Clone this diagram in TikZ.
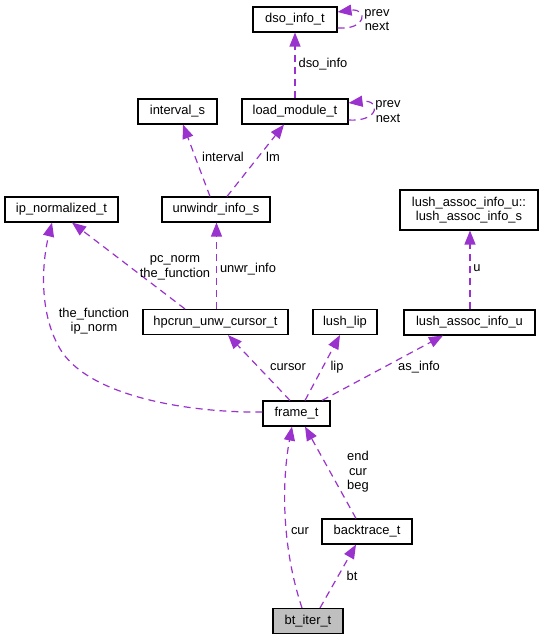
\documentclass[tikz,border=0pt]{standalone}
\usepackage{fontspec}
\setmainfont{Liberation Sans}
\usetikzlibrary{arrows.meta}
\definecolor{edgec}{HTML}{9A32CD}
\definecolor{focusfill}{HTML}{BFBFBF}
\begin{document}
\begin{tikzpicture}[x=1pt,y=-1pt,
  every node/.style={font=\fontsize{12.9}{14.5}\selectfont},
  box/.style={draw=black, line width=1.1pt, fill=white, inner sep=0pt, minimum height=25pt, align=center},
  edge/.style={draw=edgec, line width=1.2pt, dash pattern=on 7pt off 5pt, -{Triangle[length=14pt,width=11pt,fill=edgec]}},
  lbl/.style={inner sep=0pt, align=center}]
\useasboundingbox (0,0) rectangle (545,640);

% nodes
\node[box, minimum width=84pt]  (dso)  at (295,19.5)  {dso\_info\_t};
\node[box, minimum width=106pt] (lm)   at (295,111.5) {load\_module\_t};
\node[box, minimum width=79pt]  (intv) at (177.5,111.5) {interval\_s};
\node[box, minimum width=108pt] (unw)  at (216,209.5) {unwindr\_info\_s};
\node[box, minimum width=113pt] (ipn)  at (61.5,209.5) {ip\_normalized\_t};
\node[box, minimum width=138pt, minimum height=40pt] (lus) at (469,210) {lush\_assoc\_info\_u::\\lush\_assoc\_info\_s};
\node[box, minimum width=145pt] (hpc)  at (215.5,322) {hpcrun\_unw\_cursor\_t};
\node[box, minimum width=64pt]  (lip)  at (345,322) {lush\_lip};
\node[box, minimum width=131pt] (luu)  at (469.5,322.5) {lush\_assoc\_info\_u};
\node[box, minimum width=67pt]  (frm)  at (296.5,413.5) {frame\_t};
\node[box, minimum width=90pt]  (bt)   at (367,531.5) {backtrace\_t};
\node[box, minimum width=70pt, fill=focusfill] (iter) at (308,621) {bt\_iter\_t};

% edges
\draw[edge] (lm.north) -- (dso.south);
\draw[edge] ([yshift=-8.5pt]dso.east) .. controls +(30,2) and +(30,-4) .. ([yshift=7.5pt]dso.east);
\draw[edge] ([yshift=-8.5pt]lm.east) .. controls +(32,2) and +(32,-4) .. ([yshift=8.5pt]lm.east);
\draw[edge] ([xshift=-6pt]unw.north) -- ([xshift=5.5pt]intv.south);
\draw[edge] ([xshift=11pt]unw.north) -- ([xshift=-11pt]lm.south);
\draw[edge] ([xshift=1pt]hpc.north) -- ([xshift=0.5pt]unw.south);
\draw[edge] ([xshift=-30.5pt]hpc.north) -- ([xshift=10.5pt]ipn.south);
\draw[edge] ([yshift=1.5pt]frm.west) .. controls (200,413) and (95,400) .. (62,352)
   .. controls (38,315) and (42,262) .. ([xshift=-9.5pt]ipn.south);
\draw[edge] ([xshift=-6.5pt]frm.north) -- ([xshift=12.5pt]hpc.south);
\draw[edge] ([xshift=8.5pt]frm.north) -- ([xshift=-5pt]lip.south);
\draw[edge] ([xshift=25.5pt]frm.north) -- ([xshift=-26.5pt]luu.south);
\draw[edge] ([xshift=0.5pt]luu.north) -- ([xshift=1pt]lus.south);
\draw[edge] ([xshift=-11pt]bt.north) -- ([xshift=8.5pt]frm.south);
\draw[edge] ([xshift=-6pt]iter.north) .. controls (281,545) and (282,480) .. ([xshift=-4.5pt]frm.south);
\draw[edge] ([xshift=12pt]iter.north) -- ([xshift=-11pt]bt.south);

% labels
\node[lbl] (l1)  at (323,64)    {dso\_info};
\node[lbl] (l2)  at (377,20)    {prev\\next};
\node[lbl] (l3)  at (388,111.5) {prev\\next};
\node[lbl] (l4)  at (223,157)   {interval};
\node[lbl] (l5)  at (273,157)   {lm};
\node[lbl] (l6)  at (248,269)   {unwr\_info};
\node[lbl] (l7)  at (175,268)   {pc\_norm\\the\_function};
\node[lbl] (l8)  at (94,321)    {the\_function\\ip\_norm};
\node[lbl] (l9)  at (288,367)   {cursor};
\node[lbl] (l10) at (337,367)   {lip};
\node[lbl] (l11) at (419,367)   {as\_info};
\node[lbl] (l12) at (477,268)   {u};
\node[lbl] (l13) at (358,472)   {end\\cur\\beg};
\node[lbl] (l14) at (300,531)   {cur};
\node[lbl] (l15) at (352,576)   {bt};
\end{tikzpicture}
\end{document}
